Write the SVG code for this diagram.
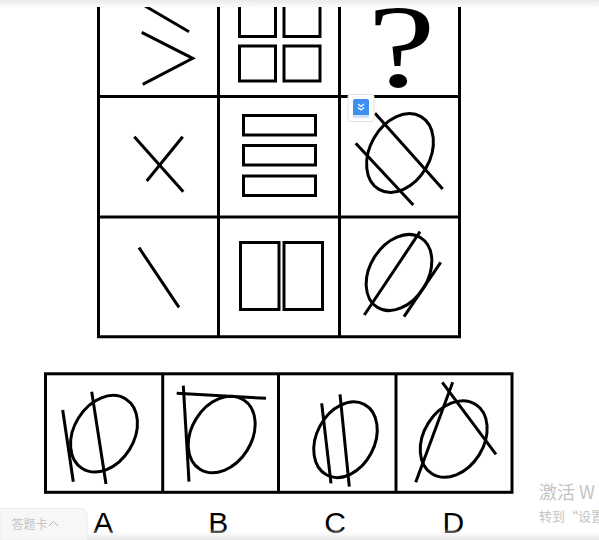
<svg xmlns="http://www.w3.org/2000/svg" width="599" height="540" viewBox="0 0 599 540">
<defs>
<style>
.g{fill:none;stroke:#000;stroke-width:3}
.s{fill:none;stroke:#000;stroke-width:3;stroke-linecap:butt}
.lbl{font-family:"Liberation Sans",Arial,sans-serif;font-size:30px;fill:#000;text-anchor:middle}
.wm{font-family:"Noto Sans CJK SC","Liberation Sans",sans-serif;fill:#c4c4c4}
</style>
<linearGradient id="topfade" x1="0" y1="0" x2="0" y2="1">
<stop offset="0" stop-color="#ebebeb"/>
<stop offset="1" stop-color="#fbfbfb"/>
</linearGradient>
<linearGradient id="botfade" x1="0" y1="0" x2="0" y2="1">
<stop offset="0" stop-color="#ffffff" stop-opacity="0"/>
<stop offset="1" stop-color="#e6e6e6"/>
</linearGradient>
</defs>
<rect width="599" height="540" fill="#fff"/>

<g id="grid">
<line class="g" x1="98.5" y1="0" x2="98.5" y2="338"/>
<line class="g" x1="218.5" y1="0" x2="218.5" y2="338"/>
<line class="g" x1="339.5" y1="0" x2="339.5" y2="338"/>
<line class="g" x1="459.5" y1="0" x2="459.5" y2="338"/>
<line class="g" x1="97" y1="96.5" x2="461" y2="96.5"/>
<line class="g" x1="97" y1="217" x2="461" y2="217"/>
<line class="g" x1="97" y1="336.7" x2="461" y2="336.7"/>
</g>

<g id="cell-r1c1">
<polyline class="s" points="141.7,4 189,31.7"/>
<polyline class="s" points="141.7,32.3 192.7,58.3 142.7,84.3"/>
</g>
<g id="cell-r1c2">
<rect class="s" x="239.5" y="0" width="36" height="36.5"/>
<rect class="s" x="284" y="0" width="36" height="36.5"/>
<rect class="s" x="239.5" y="46" width="36" height="35"/>
<rect class="s" x="284" y="46" width="36" height="35"/>
</g>
<g id="cell-r1c3">
<text transform="translate(401.5 86) scale(1.3 1)" x="0" y="0" font-family="'Liberation Serif','Times New Roman',serif" font-size="118" text-anchor="middle" fill="#000">?</text>
</g>

<g id="cell-r2c1">
<line class="s" x1="134.3" y1="136.7" x2="183.3" y2="191.7"/>
<line class="s" x1="182.7" y1="136.7" x2="146.7" y2="181"/>
</g>
<g id="cell-r2c2">
<rect class="s" x="243.5" y="115.5" width="72" height="19.5"/>
<rect class="s" x="243.5" y="145.5" width="72" height="19.5"/>
<rect class="s" x="243.5" y="176" width="72" height="19.5"/>
</g>
<g id="cell-r2c3">
<ellipse class="s" cx="400" cy="153" rx="42" ry="30" transform="rotate(-60 400 153)"/>
<line class="s" x1="375" y1="113.3" x2="442.7" y2="189"/>
<line class="s" x1="355.7" y1="143.3" x2="413.3" y2="205"/>
</g>

<g id="cell-r3c1">
<line class="s" x1="139" y1="247.7" x2="179" y2="307.3"/>
</g>
<g id="cell-r3c2">
<rect class="s" x="240.5" y="242.5" width="38.5" height="67"/>
<rect class="s" x="284" y="242.5" width="38.5" height="67"/>
</g>
<g id="cell-r3c3">
<ellipse class="s" cx="399" cy="272.5" rx="41" ry="29" transform="rotate(-58 399 272.5)"/>
<line class="s" x1="420" y1="231.7" x2="364.3" y2="315"/>
<line class="s" x1="440.7" y1="262.3" x2="404" y2="316.7"/>
</g>

<g id="icon">
<rect x="348" y="94.5" width="26" height="27" rx="2" fill="#fff" stroke="#e2e2e2" stroke-width="1"/>
<rect x="353" y="99" width="16" height="19" rx="2" fill="#3d8ff0"/>
<rect x="353" y="115" width="16" height="3" fill="#cfe2fb"/>
<polyline points="358,104 361,106.5 364,104" fill="none" stroke="#fff" stroke-width="1.2"/>
<polyline points="358,107.5 361,110 364,107.5" fill="none" stroke="#fff" stroke-width="1.2"/>
</g>

<g id="options-frame">
<rect class="g" x="45.5" y="373.8" width="466.5" height="118.5"/>
<line class="g" x1="162.7" y1="373" x2="162.7" y2="493"/>
<line class="g" x1="278.5" y1="373" x2="278.5" y2="493"/>
<line class="g" x1="396" y1="373" x2="396" y2="493"/>
</g>

<g id="option-A">
<ellipse class="s" cx="104" cy="433.7" rx="41" ry="30" transform="rotate(-58 104 433.7)"/>
<line class="s" x1="62.7" y1="410" x2="73.3" y2="481.7"/>
<line class="s" x1="91.7" y1="391.7" x2="106" y2="484"/>
</g>
<g id="option-B">
<ellipse class="s" cx="221.7" cy="434.5" rx="41" ry="30" transform="rotate(-58 221.7 434.5)"/>
<line class="s" x1="183.3" y1="385.7" x2="189" y2="481.7"/>
<line class="s" x1="176.7" y1="393.3" x2="266" y2="398.3"/>
</g>
<g id="option-C">
<ellipse class="s" cx="345.5" cy="439.7" rx="40" ry="29" transform="rotate(-62 345.5 439.7)"/>
<line class="s" x1="321.7" y1="403.3" x2="331" y2="483.3"/>
<line class="s" x1="340" y1="394.3" x2="349.3" y2="486.7"/>
</g>
<g id="option-D">
<ellipse class="s" cx="453.7" cy="439" rx="41" ry="30" transform="rotate(-58 453.7 439)"/>
<line class="s" x1="452.7" y1="382.3" x2="415.7" y2="482.3"/>
<line class="s" x1="442.3" y1="382.3" x2="496" y2="454.3"/>
</g>

<g id="labels">
<text class="lbl" x="103.3" y="533">A</text>
<text class="lbl" x="218.3" y="533">B</text>
<text class="lbl" x="335" y="533">C</text>
<text class="lbl" x="453.3" y="533">D</text>
</g>

<rect x="0" y="0" width="599" height="7" fill="url(#topfade)"/>
<rect x="0" y="528" width="599" height="12" fill="url(#botfade)"/>

<g id="tab">
<path d="M0,508.5 H80 Q87,508.5 87,515.5 V540 H0 Z" fill="#f7f7f7" stroke="#ececec" stroke-width="1"/>
<text class="wm" x="11.5" y="528.5" font-size="12" fill="#b5b5b5">答题卡</text>
<polyline points="49,526 53.5,521.5 58,526" fill="none" stroke="#b5b5b5" stroke-width="1"/>
</g>

<g id="watermark">
<text class="wm" x="539" y="499" font-size="18">激活 W</text>
<text class="wm" x="539" y="521" font-size="13">转到“设置</text>
</g>
</svg>
